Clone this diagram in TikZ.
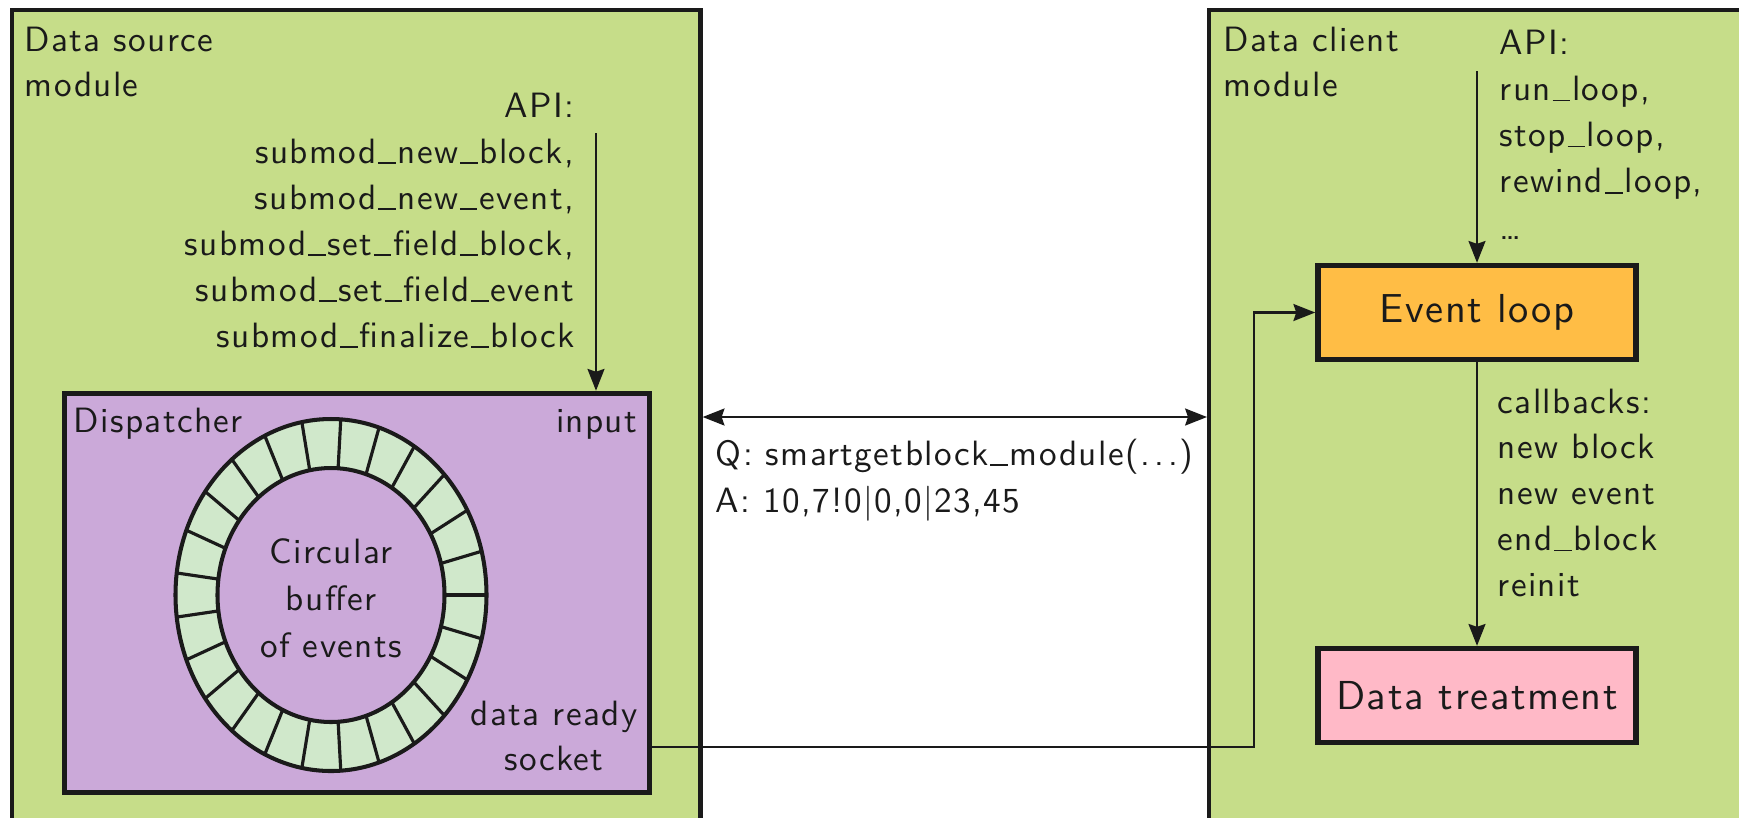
\documentclass[tikz,border=0pt]{standalone}
\usepackage{fontspec}
\setsansfont{lmsans10-regular}[Extension=.otf, LetterSpace=4]
\usetikzlibrary{arrows.meta,calc}

\definecolor{ink}{RGB}{26,26,26}
\definecolor{modgreen}{RGB}{198,221,137}
\definecolor{disppurple}{RGB}{203,169,217}
\definecolor{ringgreen}{RGB}{208,232,203}
\definecolor{evorange}{RGB}{255,189,69}
\definecolor{dtpink}{RGB}{255,185,199}

\newcommand{\lblfont}{\fontsize{10}{12}\sffamily}
\newcommand{\boxfont}{\fontsize{11.5}{13}\sffamily}
% a short low bar for identifiers, and spaced dots
\newcommand{\us}{\kern0.05em\rule[-0.05ex]{0.5em}{0.42pt}\kern0.05em}
\newcommand{\spdots}{.\kern0.12em.\kern0.12em.}

\begin{document}
\begin{tikzpicture}[x=0.01cm, y=-0.01cm,
  every node/.style={inner sep=0pt},
  modbox/.style={draw=ink, line width=1.2pt, fill=modgreen, anchor=north west},
  dispbox/.style={draw=ink, line width=1.5pt, fill=disppurple,
                  minimum width=5.85cm, minimum height=3.99cm},
  unitbox/.style={draw=ink, line width=1.5pt, minimum width=3.18cm,
                  minimum height=0.94cm, font=\boxfont, text=ink},
  lbl/.style={font=\lblfont, text=ink},
  tip/.tip={Stealth[length=6.2pt,width=4.8pt,inset=0.8pt]},
  arr/.style={draw=ink, line width=0.75pt, -tip},
  dbl/.style={draw=ink, line width=0.75pt, tip-tip},
  ringline/.style={draw=ink, line width=1.15pt},
  cellline/.style={draw=ink, line width=0.9pt}
]
\useasboundingbox (0,0) rectangle (1739,817);
\clip (0,0) rectangle (1739,817);

% the two modules (their lower part runs off the page)
\node[modbox, minimum width=6.88cm, minimum height=8.5cm] (src) at (10,8) {};
\node[modbox, minimum width=6.0cm, minimum height=8.5cm] (cli) at (1207,8) {};

% ---- data source module ----
\node[lbl, anchor=base west] (srct1) at (24,51) {Data source};
\node[lbl, anchor=base west] (srct2) at (24,96) {module};

\foreach \i/\t [count=\n from 0] in {a/API:,
    b/submod\us new\us block{,},
    c/submod\us new\us event{,},
    d/submod\us set\us field\us block{,},
    e/submod\us set\us field\us event,
    f/submod\us finalize\us block}
  \node[lbl, anchor=base east] (sapi-\i) at (575,{117+46*\n}) {\t};

\node[dispbox] (disp) at (357,593) {};
\node[lbl, anchor=base west] (disptitle) at (73,432) {Dispatcher};
\node[lbl, anchor=base east] (dispin) at (638,432) {input};
\node[lbl, anchor=base east] (dready) at (638,725) {data ready};
\node[lbl, anchor=base] (dsock) at ($(dready.base)+(0,45)$) {socket};

% circular buffer: 25 cells between two ellipses
\coordinate (rc) at (331,595);
\fill[ringgreen, even odd rule] (rc) ellipse [x radius=155.5, y radius=176]
                                (rc) ellipse [x radius=113.5, y radius=127];
\foreach \k in {0,...,24}
  \draw[cellline] ($(rc)+({113.5*cos(\k*14.4)},{127*sin(\k*14.4)})$)
               -- ($(rc)+({155.5*cos(\k*14.4)},{176*sin(\k*14.4)})$);
\draw[ringline] (rc) ellipse [x radius=155.5, y radius=176];
\draw[ringline] (rc) ellipse [x radius=113.5, y radius=127];
\node[lbl, anchor=base] (buf1) at (331,563) {Circular};
\node[lbl, anchor=base] (buf2) at (331,610) {buffer};
\node[lbl, anchor=base] (buf3) at (331,657) {of events};

% ---- data client module ----
\node[lbl, anchor=base west] (clit1) at (1223,51) {Data client};
\node[lbl, anchor=base west] (clit2) at (1223,96) {module};

\foreach \i/\t [count=\n from 0] in {a/API:,
    b/run\us loop{,},
    c/stop\us loop{,},
    d/rewind\us loop{,},
    e/\ldots}
  \node[lbl, anchor=base west] (capi-\i) at (1499,{54+46.25*\n}) {\t};

\node[unitbox, fill=evorange] (ev) at (1477,312.5) {Event loop};
\node[unitbox, fill=dtpink] (dt) at (1477,695.5) {Data treatment};

\foreach \i/\t [count=\n from 0] in {a/callbacks:,
    b/new block,
    c/new event,
    d/end\us block,
    e/reinit}
  \node[lbl, anchor=base west] (cb-\i) at (1497,{413+45.75*\n}) {\t};

% ---- exchange between the modules ----
\node[lbl, anchor=base west] (qline) at (715,465) {Q: smartgetblock\us module(\spdots)};
\node[lbl, anchor=base west] (aline) at (715,512) {A: 10,7!0|0,0|23,45};

% ---- connectors ----
\coordinate (sapistart) at (596,133);
\draw[arr] (sapistart) -- (sapistart |- disp.north);

\coordinate (capistart) at (1477,71);
\draw[arr] (capistart) -- (ev.north);

\draw[arr] (ev.south) -- (dt.north);

\coordinate (sockout) at (disp.east |- 0,747);
\coordinate (bend) at (1254,747);
\draw[arr] (sockout) -- (bend) |- (ev.west);

\coordinate (qaleft) at (src.east |- 0,417);
\coordinate (qaright) at (cli.west |- 0,417);
\draw[dbl] (qaleft) -- (qaright);
\end{tikzpicture}
\end{document}
